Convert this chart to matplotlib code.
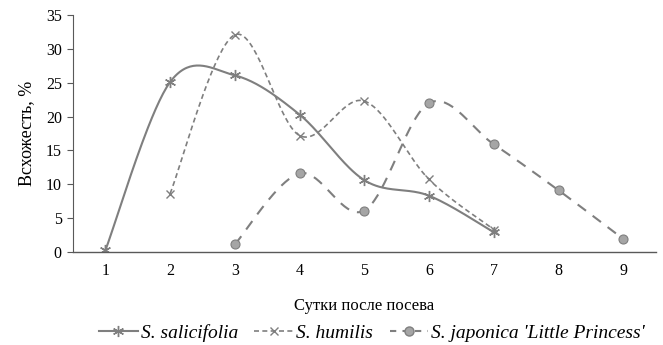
import numpy as np
import matplotlib.pyplot as plt
from matplotlib.lines import Line2D

plt.rcParams['font.family'] = ['Liberation Serif', 'DejaVu Serif']

# data
days = [1, 2, 3, 4, 5, 6, 7, 8, 9]
sal_x = [1, 2, 3, 4, 5, 6, 7]
sal_y = [0.2, 25.1, 26.1, 20.3, 10.6, 8.3, 2.9]
hum_x = [2, 3, 4, 5, 6, 7]
hum_y = [8.6, 32.1, 17.2, 22.3, 10.7, 3.3]
jap_x = [3, 4, 5, 6, 7, 8, 9]
jap_y = [1.1, 11.6, 6.1, 22.0, 15.9, 9.1, 1.9]
labels = ["S. salicifolia", "S. humilis", "S. japonica 'Little Princess'"]

GREY = '#7f7f7f'
MFILL = '#a5a5a5'


def smooth(xs, ys, n=40):
    # excel-like smoothed line (catmull-rom bezier)
    p = np.column_stack([xs, ys]).astype(float)
    pts = np.vstack([p[0], p, p[-1]])
    out = []
    t = np.linspace(0, 1, n)[:, None]
    for i in range(1, len(pts) - 2):
        p0, p1, p2, p3 = pts[i - 1], pts[i], pts[i + 1], pts[i + 2]
        c1 = p1 + (p2 - p0) / 6
        c2 = p2 - (p3 - p1) / 6
        seg = ((1 - t) ** 3) * p1 + 3 * ((1 - t) ** 2) * t * c1 + 3 * (1 - t) * t ** 2 * c2 + t ** 3 * p2
        out.append(seg if i == 1 else seg[1:])
    out = np.vstack(out)
    return out[:, 0], out[:, 1]


fig = plt.figure(figsize=(6.63, 3.45), dpi=100)
ax = fig.add_axes([0.110, 0.270, 0.879, 0.686])

star = (6, 2, 0)

sx, sy = smooth(sal_x, sal_y)
ax.plot(sx, sy, color=GREY, lw=1.5, ls='-')
ax.plot(sal_x, sal_y, ls='none', marker=star, ms=8, mec=GREY, mew=1.0)

hx, hy = smooth(hum_x, hum_y)
ax.plot(hx, hy, color=GREY, lw=1.2, ls=(0, (3, 2)))
ax.plot(hum_x, hum_y, ls='none', marker='x', ms=6, mec=GREY, mew=1.0)

jx, jy = smooth(jap_x, jap_y)
ax.plot(jx, jy, color=GREY, lw=1.5, ls=(0, (5, 4)))
ax.plot(jap_x, jap_y, ls='none', marker='o', ms=6.5, mfc=MFILL, mec=GREY, mew=0.8)

ax.set_xlim(0.5, 9.5)
ax.set_ylim(0, 35)
ax.set_xticks(days)
ax.set_yticks(range(0, 36, 5))
ax.tick_params(axis='x', length=0, pad=8, labelsize=11.5)
ax.tick_params(axis='y', length=4, width=0.8, color='#595959', pad=4, labelsize=11.5)
for s in ['top', 'right']:
    ax.spines[s].set_visible(False)
ax.spines['left'].set_color('#595959')
ax.spines['bottom'].set_color('#595959')
ax.spines['bottom'].set_linewidth(1.0)

ax.set_ylabel('Всхожесть, %', fontsize=13, labelpad=8)
ax.set_xlabel('Сутки после посева', fontsize=12, labelpad=14)

handles = [
    Line2D([], [], color=GREY, lw=1.5, ls='-', marker=star, ms=8, mec=GREY),
    Line2D([], [], color=GREY, lw=1.2, ls=(0, (3, 2)), marker='x', ms=6, mec=GREY),
    Line2D([], [], color=GREY, lw=1.5, ls=(0, (3, 3)), marker='o', ms=6.5, mfc=MFILL, mec=GREY),
]
leg = fig.legend(handles, labels, loc='center left', bbox_to_anchor=(0.149, 0.035), ncol=3,
                 frameon=False, prop={'style': 'italic', 'size': 14},
                 handlelength=2.0, handletextpad=0.15, columnspacing=0.85,
                 borderpad=0, borderaxespad=0)

fig.savefig('out.png', dpi=100)
